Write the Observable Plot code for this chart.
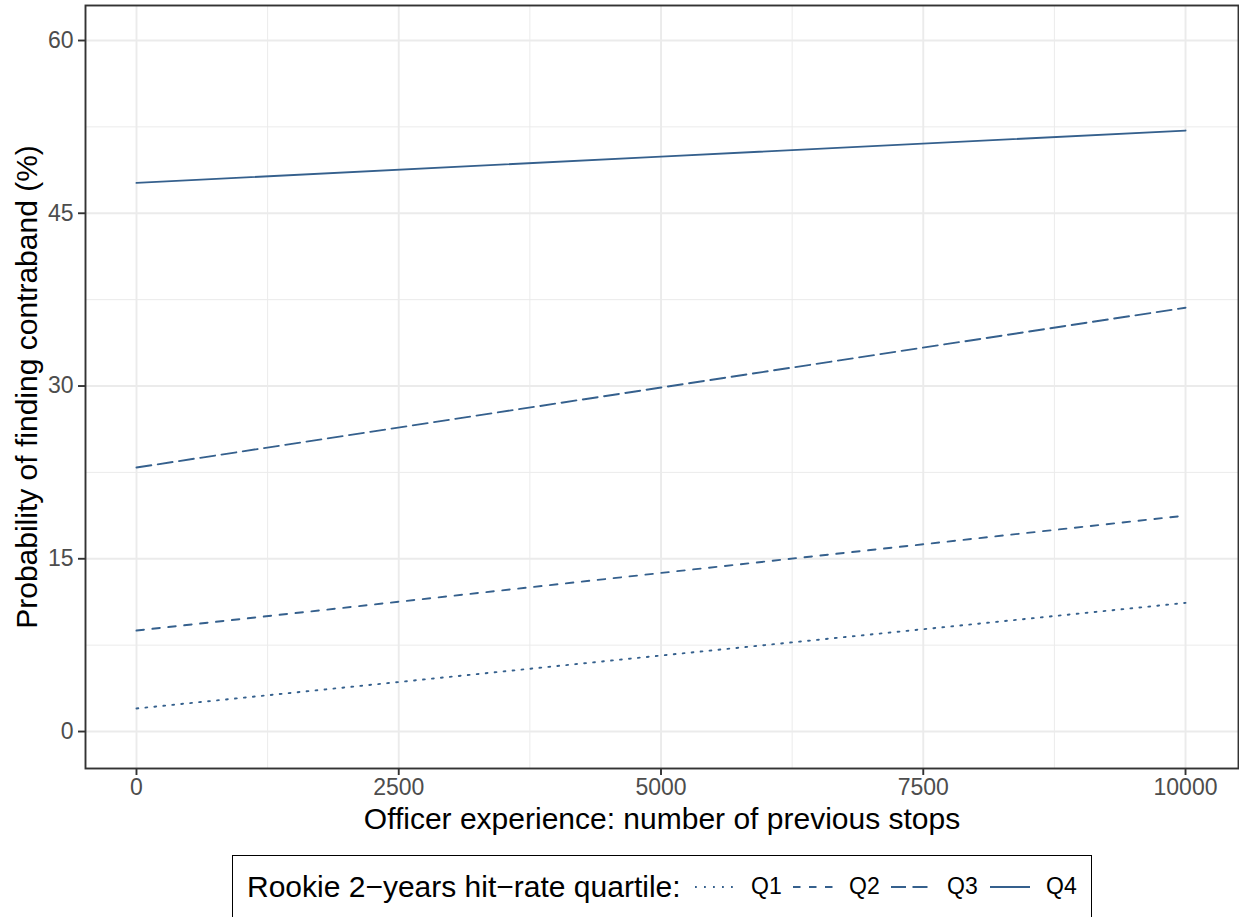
<!DOCTYPE html>
<html>
<head>
<meta charset="utf-8">
<script src="https://cdn.jsdelivr.net/npm/d3@7"></script>
<script src="https://cdn.jsdelivr.net/npm/@observablehq/plot@0.6"></script>
<style>
  html, body { margin: 0; padding: 0; background: #fff; overflow: hidden; }
  body { font-family: "Liberation Sans", Arial, sans-serif; width: 1239px; height: 917px; position: relative; }
  #chart { position: absolute; left: 0; top: 0; }
  #legend { position: absolute; left: 232px; top: 855px; width: 860px; height: 90px; border: 1.6px solid #000; box-sizing: border-box; }
  #legend .title { position: absolute; left: 14px; top: 13px; font-size: 30px; line-height: 36px; color: #000; white-space: nowrap; }
  #legend .key { position: absolute; top: 20px; }
  #legend .lab { position: absolute; top: 16px; font-size: 23px; line-height: 28px; color: #000; }
</style>
</head>
<body>
<div id="chart"></div>
<div id="legend"></div>
<script>
const experience = [0, 5000, 10000];
const q1 = [2.0, 6.6, 11.17];
const q2 = [8.77, 13.77, 18.75];
const q3 = [22.92, 29.87, 36.8];
const q4 = [47.64, 49.92, 52.18];
const quartiles = ["Q1", "Q2", "Q3", "Q4"];
const seriesValues = [q1, q2, q3, q4];
const dashes = ["1.8 7.2", "7.5 8.5", "15 6.5", null];
const xTicks = [0, 2500, 5000, 7500, 10000];
const xMinor = [1250, 3750, 6250, 8750];
const yTicks = [0, 15, 30, 45, 60];
const yMinor = [7.5, 22.5, 37.5, 52.5];
const lineColor = "#35608D";

const rows = quartiles.map((q, i) => experience.map((x, j) => ({q, x, y: seriesValues[i][j]})));

const plot = Plot.plot({
  width: 1239,
  height: 850,
  marginLeft: 85,
  marginRight: 1,
  marginTop: 5,
  marginBottom: 82,
  style: {fontFamily: "Liberation Sans, Arial, sans-serif", fontSize: "23px", background: "#fff", overflow: "visible"},
  x: {domain: [-486, 10505], label: null},
  y: {domain: [-3.21, 63.04], label: null},
  marks: [
    Plot.gridX(xMinor, {stroke: "#EBEBEB", strokeOpacity: 1, strokeWidth: 1}),
    Plot.gridY(yMinor, {stroke: "#EBEBEB", strokeOpacity: 1, strokeWidth: 1}),
    Plot.gridX(xTicks, {stroke: "#EBEBEB", strokeOpacity: 1, strokeWidth: 1.9}),
    Plot.gridY(yTicks, {stroke: "#EBEBEB", strokeOpacity: 1, strokeWidth: 1.9}),
    ...rows.map((r, i) => Plot.line(r, {x: "x", y: "y", stroke: lineColor, strokeWidth: 1.9, strokeDasharray: dashes[i] ?? undefined})),
    Plot.frame({stroke: "#333333", strokeWidth: 1.9}),
    Plot.axisX(xTicks, {tickSize: 7, tickPadding: 3, stroke: "#333333", fill: "#4D4D4D", fontSize: 23, label: null, strokeWidth: 1.9, tickFormat: d => String(d)}),
    Plot.axisY(yTicks, {tickSize: 7, tickPadding: 5, stroke: "#333333", fill: "#4D4D4D", fontSize: 23, label: null, strokeWidth: 1.9, tickFormat: d => String(d)}),
    Plot.text(["Officer experience: number of previous stops"], {frameAnchor: "bottom", lineAnchor: "bottom", textAnchor: "middle", dy: 60, fontSize: 30, fill: "#000"}),
    Plot.text(["Probability of finding contraband (%)"], {frameAnchor: "left", lineAnchor: "middle", textAnchor: "middle", dx: -58.6, rotate: -90, fontSize: 30, fill: "#000"})
  ]
});
document.getElementById("chart").appendChild(plot);

// legend
const legend = document.getElementById("legend");
const title = document.createElement("div");
title.className = "title";
title.textContent = "Rookie 2\u2212years hit\u2212rate quartile:";
legend.appendChild(title);
const keyX = [460, 558, 656, 755];
const labX = [518, 616, 714, 813];
quartiles.forEach((q, i) => {
  const svg = d3.create("svg").attr("class", "key").attr("width", 44).attr("height", 22)
    .style("left", keyX[i] + "px");
  const ln = svg.append("line").attr("x1", 2).attr("x2", 42).attr("y1", 11).attr("y2", 11)
    .attr("stroke", lineColor).attr("stroke-width", 1.9);
  if (dashes[i]) ln.attr("stroke-dasharray", dashes[i]);
  legend.appendChild(svg.node());
  const lab = document.createElement("div");
  lab.className = "lab";
  lab.textContent = q;
  lab.style.left = labX[i] + "px";
  legend.appendChild(lab);
});
</script>
</body>
</html>
